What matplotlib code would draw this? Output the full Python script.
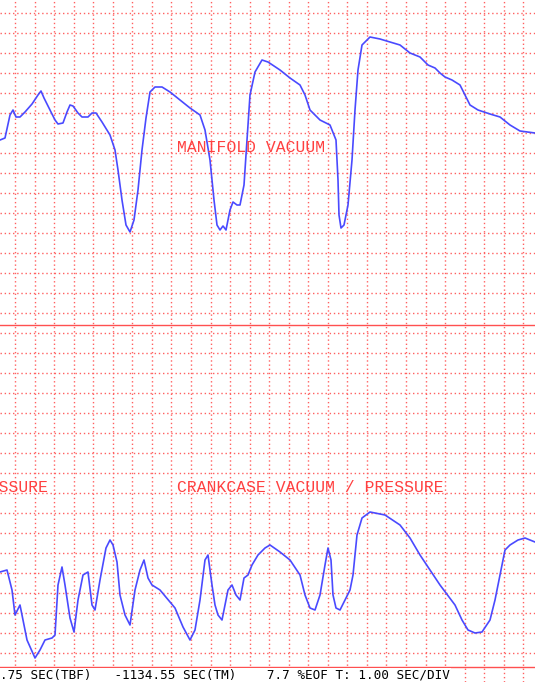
import matplotlib
matplotlib.use("Agg")
import matplotlib.pyplot as plt

# Manifold vacuum trace (x in screen px units, y in screen px units)
manifold_x = [0, 5, 10, 13, 16, 20, 25, 32, 38, 41, 44, 50, 55, 58, 63, 67, 70, 73, 78, 82, 88, 92, 96,
              102, 110, 115, 118, 122, 126, 130, 134, 138, 142, 146, 150, 155, 162, 170, 180, 190, 200,
              205, 210, 214, 217, 220, 223, 226, 230, 233, 237, 240, 244, 247, 250, 255, 262, 268, 280,
              290, 300, 305, 310, 320, 330, 336, 338, 339, 341, 344, 348, 352, 355, 358, 362, 370, 380,
              390, 400, 410, 420, 428, 435, 440, 445, 452, 460, 465, 470, 478, 490, 500, 510, 520, 535]
manifold_y = [140, 138, 115, 110, 117, 117, 112, 104, 95, 91, 98, 110, 120, 124, 123, 112, 105, 106, 113,
              117, 117, 113, 113, 122, 135, 150, 170, 200, 225, 232, 220, 190, 150, 118, 92, 87, 87, 92,
              100, 108, 115, 130, 160, 200, 225, 230, 226, 230, 210, 202, 205, 205, 185, 140, 95, 72, 60,
              62, 70, 78, 85, 95, 110, 120, 125, 140, 180, 215, 228, 225, 205, 160, 110, 70, 45, 37, 39,
              42, 45, 53, 57, 65, 68, 73, 77, 80, 85, 95, 105, 110, 114, 117, 125, 131, 133]

# Crankcase vacuum / pressure trace
crank_x = [0, 7, 12, 15, 20, 27, 35, 40, 45, 52, 55, 58, 62, 65, 70, 74, 78, 83, 88, 92, 95, 100, 106,
           110, 113, 117, 120, 125, 130, 135, 140, 144, 148, 152, 160, 165, 175, 183, 190, 195, 200, 205,
           208, 212, 215, 218, 222, 228, 232, 236, 240, 244, 248, 252, 258, 265, 270, 280, 290, 300, 305,
           310, 315, 320, 325, 328, 331, 333, 336, 340, 345, 350, 353, 357, 362, 370, 385, 400, 410, 420,
           430, 440, 455, 462, 468, 475, 482, 490, 495, 500, 505, 510, 518, 525, 535]
crank_y = [572, 570, 590, 615, 605, 640, 658, 650, 640, 638, 635, 585, 567, 585, 618, 632, 600, 575, 572,
           605, 610, 580, 548, 540, 545, 562, 595, 615, 625, 590, 570, 560, 578, 585, 590, 596, 608, 627,
           640, 630, 600, 560, 555, 585, 605, 615, 620, 590, 585, 595, 600, 578, 575, 565, 555, 548, 545,
           552, 560, 575, 595, 608, 610, 595, 565, 548, 560, 595, 608, 610, 600, 590, 575, 535, 518, 512,
           515, 525, 538, 555, 570, 585, 605, 620, 630, 633, 632, 620, 600, 575, 550, 545, 540, 538, 542]

W, H = 535, 682
fig = plt.figure(figsize=(W / 100, H / 100), dpi=100)
ax = fig.add_axes([0, 0, 1, 1])
ax.set_xlim(0, W)
ax.set_ylim(H, 0)
ax.axis("off")

grid_col = "#ff6060"
gx = 15.0
while gx < W:
    ax.axvline(gx, color=grid_col, ls=(0, (1, 2)), lw=1)
    gx += 19.55
for gy in range(13, 667, 20):
    ax.axhline(gy, color=grid_col, ls=(0, (1, 2)), lw=1)
ax.axhline(324.5, color="#ff5050", lw=1)
ax.axhline(667, color="#ff5050", lw=1)

ax.plot(manifold_x, manifold_y, color="#4a4aff", lw=1.2)
ax.plot(crank_x, crank_y, color="#4a4aff", lw=1.2)

lab = dict(color="#ff4040", fontsize=11.8, family="Liberation Mono", va="center")
ax.text(177, 147, "MANIFOLD VACUUM", **lab)
ax.text(177, 488, "CRANKCASE VACUUM / PRESSURE", **lab)
ax.text(-30, 488, "PRESSURE", **lab)
ax.text(0, 675, ".75 SEC(TBF)   -1134.55 SEC(TM)    7.7 %EOF T: 1.00 SEC/DIV",
        color="black", fontsize=9.1, family="DejaVu Sans Mono", va="center",
        bbox=dict(facecolor="white", edgecolor="none", pad=0.5))

fig.savefig("out.png", dpi=100)
